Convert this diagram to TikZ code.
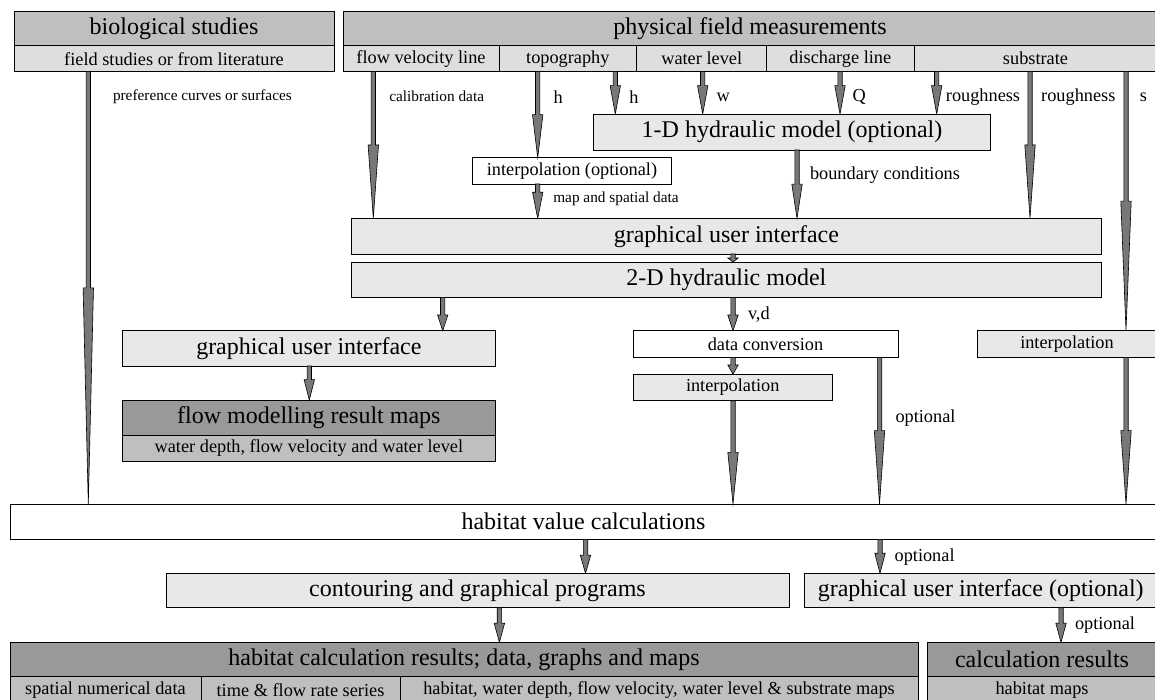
\documentclass[tikz,border=0pt]{standalone}
\usepackage{fontspec}
\setmainfont{Liberation Serif}
\usetikzlibrary{calc}

\definecolor{hdrgray}{gray}{0.75}
\definecolor{subgray}{gray}{0.87}
\definecolor{boxgray}{gray}{0.91}
\definecolor{darkgray}{gray}{0.60}
\definecolor{midgray}{gray}{0.75}
\definecolor{arrowgray}{gray}{0.47}

\tikzset{
  fbig/.style={font=\fontsize{24}{28}\selectfont},
  fmid/.style={font=\fontsize{18.3}{22}\selectfont},
  fsmall/.style={font=\fontsize{15.3}{18}\selectfont},
  cell/.style={draw=black, line width=0.9pt, inner sep=0pt, outer sep=0pt, anchor=center},
  lab/.style={inner sep=0pt, outer sep=0pt},
  arrowshape/.style={draw=black, line width=0.6pt, fill=arrowgray, line join=miter},
}

% block arrow: [head fraction]{x}{from node}{to node}
\newcommand\blockarrow[4][0.5]{%
  \path[arrowshape] let \p1=(#3.south), \p2=(#4.north), \n1={(\y1-\y2)*#1} in
    ({#2-2.2},\y1) -- ({#2-2.2},{\y2+\n1}) -- ({#2-5.2},{\y2+\n1}) -- ({#2},\y2)
    -- ({#2+5.2},{\y2+\n1}) -- ({#2+2.2},{\y2+\n1}) -- ({#2+2.2},\y1) -- cycle;}

\begin{document}
\begin{tikzpicture}[x=1pt, y=1pt]
\useasboundingbox (0,0) rectangle (1155,-700);
\fill[white] (0,0) rectangle (1155,-700);

% --- sources ---
\node[cell, fill=hdrgray, fbig, minimum width=320pt, minimum height=34.7pt] (bio) at (174,-28.35) {biological studies};
\node[cell, fill=subgray, fmid, minimum width=320pt, minimum height=26pt] (biosub) at (174,-58.7) {field studies or from literature};

\node[cell, fill=hdrgray, fbig, minimum width=814pt, minimum height=34.7pt] (phys) at (750,-28.35) {physical field measurements};
\node[cell, fill=subgray, fmid, minimum width=156pt, minimum height=26pt] (fvl) at (421,-58.7) {flow velocity line};
\node[cell, fill=subgray, fmid, minimum width=137.7pt, minimum height=26pt] (topo) at (567.85,-58.7) {topography};
\node[cell, fill=subgray, fmid, minimum width=130pt, minimum height=26pt] (wl) at (701.7,-58.7) {water level};
\node[cell, fill=subgray, fmid, minimum width=147.3pt, minimum height=26pt] (dl) at (840.35,-58.7) {discharge line};
\node[cell, fill=subgray, fmid, minimum width=243pt, minimum height=26pt] (subs) at (1035.5,-58.7) {substrate};

% --- processing ---
\node[cell, fill=boxgray, fbig, minimum width=397.4pt, minimum height=36pt] (oneD) at (792,-132) {1-D hydraulic model (optional)};
\node[cell, fill=white, fmid, minimum width=199.4pt, minimum height=26.3pt] (interpopt) at (572,-170.85) {interpolation (optional)};
\node[cell, fill=boxgray, fbig, minimum width=749.3pt, minimum height=35.7pt] (gui1) at (726.35,-236.15) {graphical user interface};
\node[cell, fill=boxgray, fbig, minimum width=749.3pt, minimum height=35.3pt] (twoD) at (726.35,-279.65) {2-D hydraulic model};
\node[cell, fill=boxgray, fbig, minimum width=372.3pt, minimum height=35.3pt] (gui2) at (308.85,-348.35) {graphical user interface};
\node[cell, fill=darkgray, fbig, minimum width=372.3pt, minimum height=35pt] (flowhdr) at (308.85,-417.5) {flow modelling result maps};
\node[cell, fill=midgray, fmid, minimum width=372.3pt, minimum height=26pt] (flowsub) at (308.85,-448) {water depth, flow velocity and water level};
\node[cell, fill=white, fmid, minimum width=265pt, minimum height=26.6pt] (conv) at (765.5,-344) {data conversion};
\node[cell, fill=boxgray, fmid, minimum width=199.5pt, minimum height=26.4pt] (interpmid) at (732.75,-387.5) {interpolation};
\node[cell, fill=boxgray, fmid, minimum width=180pt, minimum height=26.6pt] (interpR) at (1067,-344) {interpolation};

% --- habitat evaluation ---
\node[cell, fill=white, fbig, minimum width=1147pt, minimum height=35.3pt] (hv) at (583.5,-521.65) {habitat value calculations};
\node[cell, fill=boxgray, fbig, minimum width=623pt, minimum height=34.4pt] (contour) at (477.5,-590.5) {contouring and graphical programs};
\node[cell, fill=boxgray, fbig, minimum width=352.6pt, minimum height=34.4pt] (guiopt) at (980.7,-590.5) {graphical user interface (optional)};

% --- results ---
\node[cell, fill=darkgray, fbig, minimum width=908pt, minimum height=34.4pt] (reshdr) at (464,-659.5) {habitat calculation results; data, graphs and maps};
\node[cell, fill=midgray, fmid, minimum width=191pt, minimum height=26.3pt] (res1) at (105.5,-689.85) {spatial numerical data};
\node[cell, fill=midgray, fmid, minimum width=199pt, minimum height=26.3pt] (res2) at (300.5,-689.85) {time \& flow rate series};
\node[cell, fill=midgray, fmid, minimum width=518pt, minimum height=26.3pt] (res3) at (659,-689.85) {habitat, water depth, flow velocity, water level \& substrate maps};
\node[cell, fill=darkgray, fbig, minimum width=230pt, minimum height=34.4pt] (calchdr) at (1042,-659.5) {calculation results};
\node[cell, fill=midgray, fmid, minimum width=230pt, minimum height=26.3pt] (calcsub) at (1042,-689.85) {habitat maps};

% --- connector labels ---
\node[lab, fsmall, anchor=west] (lpref) at (113,-96.7) {preference curves or surfaces};
\node[lab, fsmall, anchor=west] (lcal) at (389.3,-96.7) {calibration data};
\node[lab, fmid] (lh1) at (558.3,-97) {h};
\node[lab, fmid] (lh2) at (634,-97) {h};
\node[lab, fmid] (lw) at (723.3,-97) {w};
\node[lab, fmid] (lq) at (859.3,-97) {Q};
\node[lab, fmid] (lr1) at (983,-97) {roughness};
\node[lab, fmid] (lr2) at (1078.3,-97) {roughness};
\node[lab, fmid] (ls) at (1143.3,-97) {s};
\node[lab, fsmall, anchor=west] (lmap) at (553.3,-199.3) {map and spatial data};
\node[lab, fmid, anchor=west] (lbc) at (810,-175) {boundary conditions};
\node[lab, fmid, anchor=west] (lvd) at (748,-315) {v,d};
\node[lab, fmid, anchor=west] (lopt1) at (895.5,-418.3) {optional};
\node[lab, fmid, anchor=west] (lopt2) at (894.6,-556.7) {optional};
\node[lab, fmid, anchor=west] (lopt3) at (1075,-625) {optional};

% --- connectors ---
\blockarrow{88.3}{biosub}{hv}
\blockarrow{373.3}{fvl}{gui1}
\blockarrow{537.7}{topo}{interpopt}
\blockarrow[0.67]{615.3}{topo}{oneD}
\blockarrow[0.67]{702.7}{wl}{oneD}
\blockarrow[0.67]{840}{dl}{oneD}
\blockarrow[0.67]{936.7}{subs}{oneD}
\blockarrow{1030}{subs}{gui1}
\blockarrow{1126}{subs}{interpR}
\blockarrow[0.76]{537.7}{interpopt}{gui1}
\blockarrow{797}{oneD}{gui1}
\blockarrow{733}{gui1}{twoD}
\blockarrow[0.47]{442.7}{twoD}{gui2}
\blockarrow[0.47]{733}{twoD}{conv}
\blockarrow[0.6]{309.3}{gui2}{flowhdr}
\blockarrow[0.55]{733}{conv}{interpmid}
\blockarrow{733}{interpmid}{hv}
\blockarrow{879.5}{conv}{hv}
\blockarrow{1126}{interpR}{hv}
\blockarrow[0.53]{585.5}{hv}{contour}
\blockarrow[0.59]{880}{hv}{guiopt}
\blockarrow[0.55]{499.4}{contour}{reshdr}
\blockarrow[0.55]{1061}{guiopt}{calchdr}
\end{tikzpicture}
\end{document}
